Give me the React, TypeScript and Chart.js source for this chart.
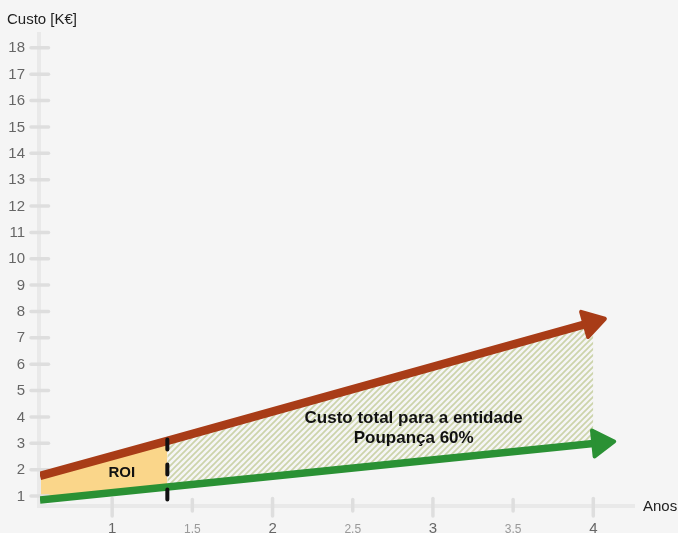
import React, { useEffect, useRef } from "react";
import { Chart, registerables } from "chart.js";

Chart.register(...registerables);

// ---- data ----
const years = [0.55, 1.344, 4];
const totalCost = [1.76, 3.09, 7.6];
const savingsCost = [0.85, 1.34, 2.99];
const roiYear = 1.344;
const roiMarkerRange = [3.14, 0.74];
const xTicks = [1, 1.5, 2, 2.5, 3, 3.5, 4];
const yTicks = [1, 2, 3, 4, 5, 6, 7, 8, 9, 10, 11, 12, 13, 14, 15, 16, 17, 18];
const xRange = [0.55, 4.26];
const yRange = [0.66, 18.6];
const yTitle = "Custo [K€]";
const xTitle = "Anos";
const roiLabel = "ROI";
const areaLabels = ["Custo total para a entidade", "Poupança 60%"];

// annotation anchors (data units)
const roiLabelPos = { x: 1.06, y: 1.87 };
const areaLabelPos = [
  { x: 2.88, y: 3.93 },
  { x: 2.88, y: 3.18 },
];

const FONT = '"Liberation Sans", Arial, Helvetica, sans-serif';
const RED = "#a83c17";
const GREEN = "#2a9134";
const YELLOW = "#fad68a";

const pts = (ys: number[], from: number, to: number) =>
  years.slice(from, to).map((x, i) => ({ x, y: ys[from + i] }));

const decorPlugin = {
  id: "decor",
  beforeDatasetsDraw(chart: any) {
    const { ctx, chartArea, scales } = chart;
    const xs = scales.x;
    const ys = scales.y;
    ctx.save();
    // axis lines
    ctx.strokeStyle = "#e9e9e9";
    ctx.lineWidth = 4;
    ctx.lineCap = "butt";
    ctx.beginPath();
    ctx.moveTo(chartArea.left - 1, chartArea.top);
    ctx.lineTo(chartArea.left - 1, chartArea.bottom + 2);
    ctx.moveTo(chartArea.left - 3, chartArea.bottom + 1);
    ctx.lineTo(chartArea.right, chartArea.bottom + 1);
    ctx.stroke();

    // y ticks
    ctx.strokeStyle = "#dedede";
    ctx.lineWidth = 3.5;
    ctx.lineCap = "round";
    ctx.font = `15px ${FONT}`;
    ctx.fillStyle = "#666";
    ctx.textAlign = "right";
    ctx.textBaseline = "middle";
    for (const v of yTicks) {
      const y = ys.getPixelForValue(v);
      ctx.beginPath();
      ctx.moveTo(31, y);
      ctx.lineTo(48.5, y);
      ctx.stroke();
      ctx.fillText(String(v), 25, y + 0.5);
    }
    // x ticks
    ctx.textAlign = "center";
    ctx.textBaseline = "alphabetic";
    for (const v of xTicks) {
      const x = xs.getPixelForValue(v);
      const major = Number.isInteger(v);
      ctx.beginPath();
      ctx.moveTo(x, major ? 498.5 : 499.5);
      ctx.lineTo(x, major ? 516 : 511);
      ctx.stroke();
      ctx.font = major ? `15px ${FONT}` : `12px ${FONT}`;
      ctx.fillStyle = major ? "#666" : "#999";
      ctx.fillText(String(v), x, major ? 532.5 : 533);
    }
    // axis titles
    ctx.fillStyle = "#222";
    ctx.font = `15px ${FONT}`;
    ctx.textAlign = "left";
    ctx.fillText(yTitle, 7, 24);
    ctx.fillText(xTitle, chartArea.right + 8, 511);
    ctx.restore();
  },
  afterDatasetsDraw(chart: any) {
    const { ctx, scales } = chart;
    ctx.save();
    chart.data.datasets.forEach((ds: any, i: number) => {
      if (!ds.arrow) return;
      const el = chart.getDatasetMeta(i).data;
      const a = el[el.length - 2];
      const b = el[el.length - 1];
      const dx = b.x - a.x;
      const dy = b.y - a.y;
      const L = Math.hypot(dx, dy);
      const ux = dx / L;
      const uy = dy / L;
      const nx = -uy;
      const ny = ux;
      const { back, len, hw } = ds.arrow;
      const bx = b.x + ux * back;
      const by = b.y + uy * back;
      ctx.beginPath();
      ctx.moveTo(bx + nx * hw, by + ny * hw);
      ctx.lineTo(bx + ux * len, by + uy * len);
      ctx.lineTo(bx - nx * hw, by - ny * hw);
      ctx.closePath();
      ctx.fillStyle = ds.borderColor;
      ctx.strokeStyle = ds.borderColor;
      ctx.lineJoin = "round";
      ctx.lineWidth = 4;
      ctx.fill();
      ctx.stroke();
    });

    // labels
    ctx.fillStyle = "#111";
    ctx.textAlign = "center";
    ctx.textBaseline = "middle";
    ctx.font = `bold 15px ${FONT}`;
    ctx.fillText(
      roiLabel,
      scales.x.getPixelForValue(roiLabelPos.x),
      scales.y.getPixelForValue(roiLabelPos.y)
    );
    ctx.font = `bold 17px ${FONT}`;
    areaLabels.forEach((t, i) => {
      ctx.fillText(
        t,
        scales.x.getPixelForValue(areaLabelPos[i].x),
        scales.y.getPixelForValue(areaLabelPos[i].y)
      );
    });
    ctx.restore();
  },
};

export default function App() {
  const ref = useRef<HTMLCanvasElement | null>(null);

  useEffect(() => {
    document.body.style.margin = "0";
    document.body.style.background = "#f5f5f5";
    const canvas = ref.current!;
    const ctx = canvas.getContext("2d")!;

    const tile = document.createElement("canvas");
    tile.width = 6;
    tile.height = 6;
    const tc = tile.getContext("2d")!;
    tc.strokeStyle = "#ccd4aa";
    tc.lineWidth = 1.7;
    tc.beginPath();
    tc.moveTo(0, 6);
    tc.lineTo(6, 0);
    tc.moveTo(-1, 1);
    tc.lineTo(1, -1);
    tc.moveTo(5, 7);
    tc.lineTo(7, 5);
    tc.stroke();
    const hatch = ctx.createPattern(tile, "repeat")!;

    const hidden = { borderWidth: 0, pointRadius: 0, borderColor: "transparent" };

    const chart = new Chart(ctx, {
      type: "line",
      data: {
        datasets: [
          {
            label: "Custo total",
            data: pts(totalCost, 0, 3),
            borderColor: RED,
            borderWidth: 8.5,
            pointRadius: 0,
            fill: false,
            arrow: { back: -9, len: 21, hw: 13 },
          } as any,
          {
            label: "Custo com poupança",
            data: pts(savingsCost, 0, 3),
            borderColor: GREEN,
            borderWidth: 7.5,
            pointRadius: 0,
            fill: false,
            arrow: { back: 0, len: 21, hw: 13 },
          } as any,
          {
            label: "ROI",
            data: [
              { x: roiYear, y: roiMarkerRange[0] },
              { x: roiYear, y: roiMarkerRange[1] },
            ],
            borderColor: "#111",
            borderWidth: 4,
            borderDash: [10, 15],
            borderCapStyle: "round",
            pointRadius: 0,
            fill: false,
            order: -1,
          },
          { label: "b1", data: pts(savingsCost, 0, 2), ...hidden, fill: false },
          {
            label: "roi-fill",
            data: pts(totalCost, 0, 2),
            ...hidden,
            fill: 3,
            backgroundColor: YELLOW,
          },
          { label: "b2", data: pts(savingsCost, 1, 3), ...hidden, fill: false },
          {
            label: "rest-fill",
            data: pts(totalCost, 1, 3),
            ...hidden,
            fill: 5,
            backgroundColor: hatch as any,
          },
        ],
      },
      options: {
        animation: false,
        responsive: false,
        events: [],
        layout: { padding: { left: 40, right: 43, top: 32, bottom: 28 } },
        scales: {
          x: { type: "linear", min: xRange[0], max: xRange[1], display: false },
          y: { type: "linear", min: yRange[0], max: yRange[1], display: false },
        },
        plugins: {
          legend: { display: false },
          tooltip: { enabled: false },
          filler: { drawTime: "beforeDatasetsDraw" } as any,
        },
        elements: { line: { tension: 0 } },
      },
      plugins: [decorPlugin],
    });
    return () => chart.destroy();
  }, []);

  return (
    <div style={{ position: "absolute", left: 0, top: 0, width: 678, height: 533, background: "#f5f5f5" }}>
      <canvas ref={ref} width={678} height={533} style={{ display: "block" }} />
    </div>
  );
}
